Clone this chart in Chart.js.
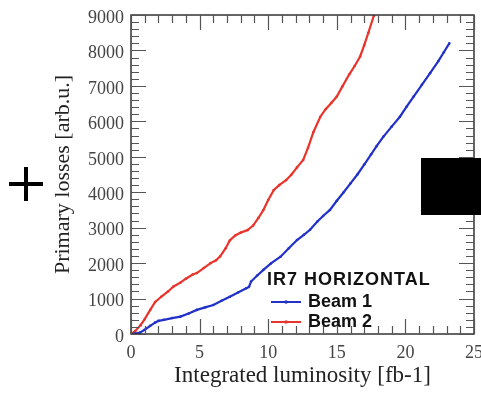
<!DOCTYPE html>
<html><head><meta charset="utf-8">
<script src="https://cdn.jsdelivr.net/npm/chart.js@4/dist/chart.umd.min.js"></script>
<style>html,body{margin:0;padding:0;background:#fff;overflow:hidden}</style>
</head><body>
<canvas id="c" width="481" height="394" style="width:481px;height:394px;display:block"></canvas>
<script>
// ---- data ----
const legendTitle = "IR7 HORIZONTAL";
const seriesNames = ["Beam 1", "Beam 2"];
const xTitle = "Integrated luminosity [fb-1]";
const yTitle = "Primary losses [arb.u.]";
const xTicks = [0, 5, 10, 15, 20, 25];
const yTicks = [0, 1000, 2000, 3000, 4000, 5000, 6000, 7000, 8000, 9000];

const beam1Lumi = [0,0.3,0.66,1.0,1.4,1.75,2.0,2.4,3.0,3.6,4.2,4.8,5.4,6.0,6.6,7.2,7.8,8.4,8.6,8.75,9.2,9.65,10.2,10.9,11.5,12.1,12.6,13.05,13.6,14.0,14.5,15.0,15.5,16.0,16.5,17.0,17.5,17.9,18.4,19.0,19.6,20.1,20.6,21.2,21.8,22.4,22.8,23.2];
const beam1Loss = [0,10,40,120,230,320,370,400,450,490,580,680,750,820,940,1050,1170,1290,1330,1480,1650,1810,1990,2180,2420,2650,2800,2940,3180,3330,3500,3760,4000,4250,4500,4780,5070,5300,5570,5850,6130,6420,6700,7030,7360,7700,7950,8200];

const beam2Lumi = [0,0.3,0.7,1.0,1.4,1.75,2.2,2.7,3.1,3.6,4.0,4.5,4.8,5.3,5.8,6.2,6.5,6.9,7.2,7.6,8.0,8.5,8.9,9.3,9.65,10.0,10.4,10.8,11.3,11.7,12.1,12.55,12.9,13.3,13.8,14.2,14.6,15.0,15.4,15.9,16.3,16.7,17.0,17.3,17.7,17.9];
const beam2Loss = [0,80,250,420,680,900,1050,1200,1340,1450,1560,1680,1720,1860,2000,2080,2190,2420,2640,2780,2860,2930,3060,3280,3500,3780,4060,4200,4340,4500,4700,4910,5250,5700,6130,6350,6520,6700,6980,7320,7560,7830,8150,8500,8980,9200];

const toPts = (xs, ys) => xs.map((x, i) => ({x, y: ys[i]}));

// ---- styles ----
const BLUE = "#2231c8", RED = "#e8352c";
const serif = "'Liberation Serif', 'Times New Roman', serif";
const sans = "'Liberation Sans', Arial, sans-serif";

const decor = {
  id: 'decor',
  afterDraw(chart) {
    const ctx = chart.ctx, a = chart.chartArea;
    const xs = chart.scales.x, ys = chart.scales.y;
    ctx.save();
    // frame
    ctx.strokeStyle = "#333"; ctx.lineWidth = 1.5;
    ctx.strokeRect(a.left, a.top, a.right - a.left, a.bottom - a.top);
    // inward ticks
    ctx.strokeStyle = "#555"; ctx.lineWidth = 1.2;
    ctx.beginPath();
    for (let v = 0; v <= 25; v += 1) {
      const px = Math.round(xs.getPixelForValue(v)) + 0.5;
      const L = (v % 5 === 0) ? 15 : 8;
      ctx.moveTo(px, a.bottom); ctx.lineTo(px, a.bottom - L);
      ctx.moveTo(px, a.top); ctx.lineTo(px, a.top + L);
    }
    for (let v = 0; v <= 9000; v += 200) {
      const py = Math.round(ys.getPixelForValue(v)) + 0.5;
      const L = (v % 1000 === 0) ? 15 : 8;
      ctx.moveTo(a.left, py); ctx.lineTo(a.left + L, py);
      ctx.moveTo(a.right, py); ctx.lineTo(a.right - L, py);
    }
    ctx.stroke();
    // legend
    ctx.fillStyle = "#111";
    ctx.font = "bold 18px " + sans;
    ctx.textBaseline = "middle"; ctx.textAlign = "left";
    if ('letterSpacing' in ctx) ctx.letterSpacing = "1px";
    ctx.fillText(legendTitle, 267, 280);
    if ('letterSpacing' in ctx) ctx.letterSpacing = "0px";
    chart.data.datasets.forEach((ds, i) => {
      const y = 302 + i * 20;
      ctx.strokeStyle = ds.borderColor; ctx.lineWidth = 2;
      ctx.beginPath(); ctx.moveTo(271, y); ctx.lineTo(301, y); ctx.stroke();
      ctx.fillStyle = ds.borderColor;
      ctx.beginPath(); ctx.arc(286, y, 1.8, 0, Math.PI * 2); ctx.fill();
      ctx.fillStyle = "#111";
      ctx.fillText(ds.label, 308, y);
    });
    // plus sign on the left
    ctx.fillStyle = "#000";
    ctx.fillRect(9, 182, 34, 4);
    ctx.fillRect(24, 167, 4, 34);
    // black box on the right
    ctx.fillRect(421, 158, 60, 57);
    ctx.restore();
  }
};

new Chart(document.getElementById('c'), {
  type: 'line',
  data: {
    datasets: [
      { label: seriesNames[0], data: toPts(beam1Lumi, beam1Loss), borderColor: BLUE, backgroundColor: BLUE,
        borderWidth: 2.2, pointRadius: 1.3, pointBorderWidth: 0, tension: 0 },
      { label: seriesNames[1], data: toPts(beam2Lumi, beam2Loss), borderColor: RED, backgroundColor: RED,
        borderWidth: 2.2, pointRadius: 1.3, pointBorderWidth: 0, tension: 0 }
    ]
  },
  options: {
    responsive: false, animation: false, devicePixelRatio: 1,
    layout: { padding: { top: 15, right: 7, left: 0, bottom: 0 } },
    plugins: { legend: { display: false }, tooltip: { enabled: false } },
    scales: {
      x: {
        type: 'linear', min: 0, max: 25,
        afterBuildTicks: s => { s.ticks = xTicks.map(v => ({value: v})); },
        afterFit: s => { s.height = 60; s.paddingLeft = 0; s.paddingRight = 0; },
        grid: { display: false, drawTicks: false },
        border: { display: false },
        ticks: { font: { family: serif, size: 18 }, color: "#444", padding: 8, maxRotation: 0,
                 callback: v => String(v) },
        title: { display: true, text: xTitle, font: { family: serif, size: 23 }, color: "#222", padding: { top: 0, bottom: 4 } }
      },
      y: {
        type: 'linear', min: 0, max: 9000,
        afterBuildTicks: s => { s.ticks = yTicks.map(v => ({value: v})); },
        afterFit: s => { s.width = 131; s.paddingTop = 0; s.paddingBottom = 0; },
        grid: { display: false, drawTicks: false },
        border: { display: false },
        ticks: { font: { family: serif, size: 18 }, color: "#444", padding: 7, labelOffset: 3,
                 callback: v => String(v) },
        title: { display: true, text: yTitle, font: { family: serif, size: 22 }, color: "#222", padding: { top: 50, bottom: 0 } }
      }
    }
  },
  plugins: [decor]
});
</script>
</body></html>
